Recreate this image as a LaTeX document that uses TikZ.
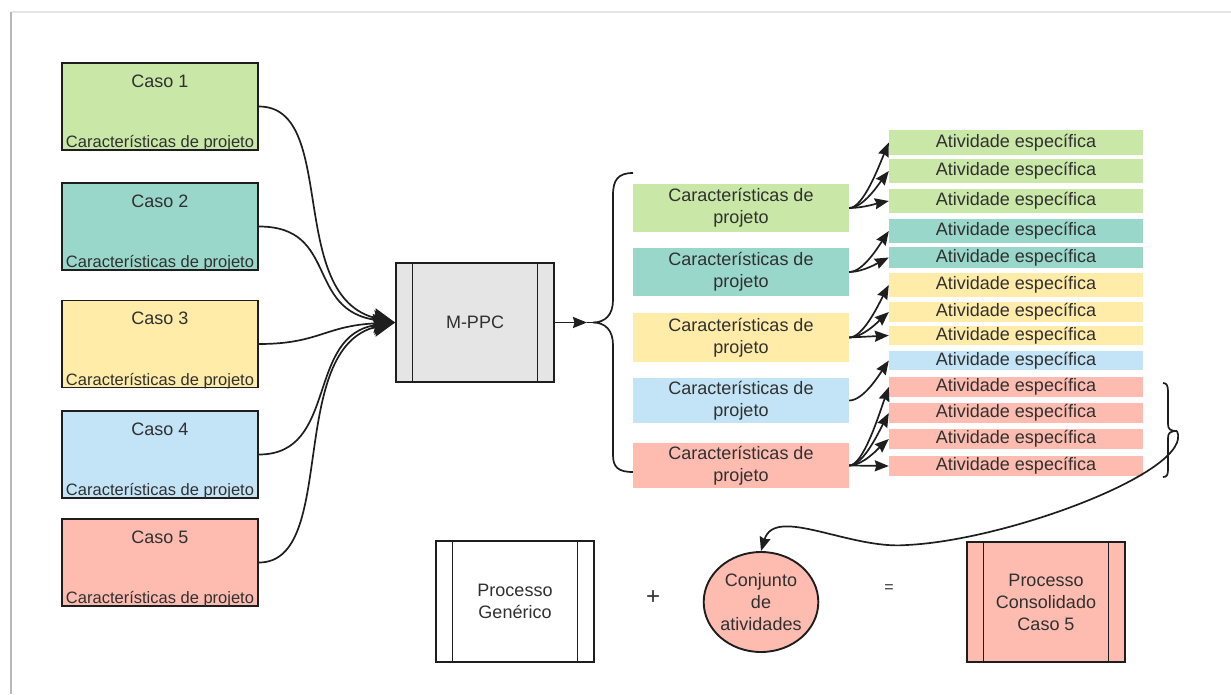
\documentclass[tikz,border=0pt]{standalone}
\usepackage{fontspec}
\setmainfont{Liberation Sans}
\usetikzlibrary{arrows.meta,shapes.geometric}

\definecolor{ink}{HTML}{303030}
\definecolor{edge}{HTML}{1E1E1E}
\definecolor{cgreen}{HTML}{C9E7A7}
\definecolor{cteal}{HTML}{9AD7CB}
\definecolor{cyellow}{HTML}{FFECA8}
\definecolor{cblue}{HTML}{C3E4F6}
\definecolor{cred}{HTML}{FEBCB0}
\definecolor{cgray}{HTML}{E5E5E5}

\tikzset{
  casebox/.style={draw=edge, line width=1.9pt, minimum width=196pt, minimum height=87pt, inner sep=0pt},
  proc/.style={draw=edge, line width=1.9pt, inner sep=0pt, align=center,
    path picture={
      \draw[edge, line width=1.9pt]
        ([xshift=16.5pt]path picture bounding box.north west) -- ([xshift=16.5pt]path picture bounding box.south west)
        ([xshift=-16.5pt]path picture bounding box.north east) -- ([xshift=-16.5pt]path picture bounding box.south east);
    }},
  charbox/.style={minimum width=216pt, inner sep=0pt, align=center},
  actbox/.style={minimum width=254pt, inner sep=0pt},
  sub/.style={font=\fontsize{16.5}{18}\selectfont, anchor=base, inner sep=0pt},
  bigarr/.style={draw=edge, line width=1.7pt, -{Stealth[length=22pt,width=19pt,inset=3pt]}},
  fan/.style={draw=edge, line width=1.7pt, -{Stealth[length=14pt,width=11pt,inset=1.5pt]}},
  plain/.style={draw=edge, line width=1.7pt},
}

\begin{document}
\begin{tikzpicture}[x=1pt, y=-1pt, font=\fontsize{18}{22}\selectfont, text=ink]
\useasboundingbox (0,0) rectangle (1231,694);

% page frame
\draw[color=black!10, line width=1.5pt] (11,12) -- (1231,12);
\draw[color=black!28, line width=2.2pt] (11,12) -- (11,694);

% cases
\node[casebox, fill=cgreen]  (c1) at (160,106.5) {};
\node[casebox, fill=cteal]   (c2) at (160,226.5) {};
\node[casebox, fill=cyellow] (c3) at (160,344) {};
\node[casebox, fill=cblue]   (c4) at (160,454.5) {};
\node[casebox, fill=cred]    (c5) at (160,562.5) {};
\foreach \i in {1,...,5}{
  \node (c\i t) at ([yshift=-19pt]c\i.north) {Caso \i};
  \node[sub] (c\i s) at ([yshift=3pt]c\i.south) {Características de projeto};
}

% method
\node[proc, fill=cgray, minimum width=158pt, minimum height=119pt] (mppc) at (475,322.5) {M-PPC};

\draw[bigarr] (c1.east) .. controls +(80,0) and +(-110,-25) .. (mppc.west);
\draw[bigarr] (c2.east) .. controls +(80,0) and +(-90,-12) .. (mppc.west);
\draw[bigarr] (c3.east) .. controls +(60,0) and +(-70,3) .. (mppc.west);
\draw[bigarr] (c4.east) .. controls +(80,0) and +(-90,12) .. (mppc.west);
\draw[bigarr] (c5.east) .. controls +(80,0) and +(-110,25) .. (mppc.west);

% left brace
\coordinate (lbt) at (593,322.5);
\coordinate (lbin) at (587,322.5);
\draw[plain] (633,173) .. controls (618,173) and (613,180) .. (613,195) -- (613,300)
  .. controls (613,315) and (605,322.5) .. (lbt)
  .. controls (605,322.5) and (613,330) .. (613,345) -- (613,455)
  .. controls (613,467) and (618,472) .. (633,472);
\draw[fan] (mppc.east) -- (lbin);
\draw[plain] (lbin) -- (lbt);

% project characteristics
\node[charbox, fill=cgreen,  minimum height=48pt] (k1) at (741,208) {Características de\\projeto};
\node[charbox, fill=cteal,   minimum height=48pt] (k2) at (741,272) {Características de\\projeto};
\node[charbox, fill=cyellow, minimum height=49pt] (k3) at (741,337.5) {Características de\\projeto};
\node[charbox, fill=cblue,   minimum height=45pt] (k4) at (741,400.5) {Características de\\projeto};
\node[charbox, fill=cred,    minimum height=45pt] (k5) at (741,465.5) {Características de\\projeto};

% specific activities
\node[actbox, fill=cgreen,  minimum height=25pt] (a1)  at (1016,142.5) {Atividade específica};
\node[actbox, fill=cgreen,  minimum height=24pt] (a2)  at (1016,171)   {Atividade específica};
\node[actbox, fill=cgreen,  minimum height=24pt] (a3)  at (1016,201)   {Atividade específica};
\node[actbox, fill=cteal,   minimum height=24pt] (a4)  at (1016,231)   {Atividade específica};
\node[actbox, fill=cteal,   minimum height=21pt] (a5)  at (1016,257.5) {Atividade específica};
\node[actbox, fill=cyellow, minimum height=24pt] (a6)  at (1016,285)   {Atividade específica};
\node[actbox, fill=cyellow, minimum height=20pt] (a7)  at (1016,312)   {Atividade específica};
\node[actbox, fill=cyellow, minimum height=19pt] (a8)  at (1016,335.5) {Atividade específica};
\node[actbox, fill=cblue,   minimum height=19pt] (a9)  at (1016,360.5) {Atividade específica};
\node[actbox, fill=cred,    minimum height=20pt] (a10) at (1016,387)   {Atividade específica};
\node[actbox, fill=cred,    minimum height=20pt] (a11) at (1016,413)   {Atividade específica};
\node[actbox, fill=cred,    minimum height=20pt] (a12) at (1016,439)   {Atividade específica};
\node[actbox, fill=cred,    minimum height=20pt] (a13) at (1016,466)   {Atividade específica};

% characteristics -> activities
\draw[fan] (k1.east) .. controls +(14,0) and +(-10,24) .. (a1.west);
\draw[fan] (k1.east) .. controls +(14,0) and +(-10,13) .. (a2.west);
\draw[fan] (k1.east) .. controls +(14,0) and +(-10,2) .. (a3.west);
\draw[fan] (k2.east) .. controls +(14,0) and +(-10,15) .. (a4.west);
\draw[fan] (k2.east) .. controls +(14,0) and +(-10,5) .. (a5.west);
\draw[fan] (k3.east) .. controls +(14,0) and +(-10,19) .. (a6.west);
\draw[fan] (k3.east) .. controls +(14,0) and +(-10,9) .. (a7.west);
\draw[fan] (k3.east) -- (a8.west);
\draw[fan] (k4.east) .. controls +(14,0) and +(-10,15) .. (a9.west);
\draw[fan] (k5.east) .. controls +(14,0) and +(-10,28) .. (a10.west);
\draw[fan] (k5.east) .. controls +(14,0) and +(-10,19) .. (a11.west);
\draw[fan] (k5.east) .. controls +(14,0) and +(-10,9) .. (a12.west);
\draw[fan] (k5.east) -- (a13.west);

% right brace around the activities of case 5
\coordinate (rbt) at (1177,431);
\draw[plain] (1163,383) .. controls (1167,383) and (1168,386) .. (1168,392) -- (1168,424)
  .. controls (1168,429) and (1170,431) .. (rbt)
  .. controls (1170,431) and (1168,433) .. (1168,438) -- (1168,469)
  .. controls (1168,475) and (1167,477) .. (1163,477);

% bottom equation
\node[proc, fill=white, minimum width=158pt, minimum height=121pt] (gen) at (515,601.5) {Processo\\Genérico};
\node[font=\fontsize{24}{26}\selectfont] (plus) at (653,598) {+};
\node[ellipse, draw=edge, line width=1.9pt, fill=cred, minimum width=98pt, minimum height=100pt,
      inner sep=0pt, align=center] (conj) at (761,602) {Conjunto\\de\\atividades};
\node[font=\fontsize{16}{18}\selectfont] (eq) at (889,589) {=};
\node[proc, fill=cred, minimum width=158pt, minimum height=120pt] (cons) at (1046,602) {Processo\\Consolidado\\Caso 5};

\coordinate (low) at (907,545);
\draw[fan] (rbt) .. controls (1195,470) and (1010,540) .. (low)
  .. controls (850,550) and (775,505) .. (conj.north);
\end{tikzpicture}
\end{document}
